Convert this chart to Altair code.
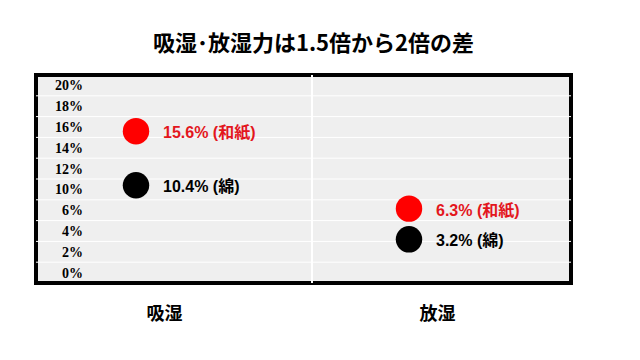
import altair as alt
import pandas as pd

# ---- data ----
categories = ["吸湿", "吸湿", "放湿", "放湿"]
materials = ["和紙", "綿", "和紙", "綿"]
values = [15.6, 10.4, 6.3, 3.2]

tick_values = [0, 2, 4, 6, 10, 12, 14, 16, 18, 20]
grid_values = [1, 3, 5, 8, 11, 13, 15, 17, 19]

W, H = 535, 208
S = H / 10.0

df = pd.DataFrame({
    "cat": categories,
    "mat": materials,
    "val": values,
})
df["label"] = [f"{v}% ({m})" for v, m in zip(values, materials)]

grid_df = pd.DataFrame({"g": grid_values})
tick_df = pd.DataFrame({"t": tick_values, "tl": [f"{t}%" for t in tick_values]})

yscale = alt.Scale(domain=[-1, 6, 10, 21], range=[H, H - 3.5 * S, H - 4.5 * S, 0],
                   nice=False, zero=False)
xscale = alt.Scale(type="point", domain=["吸湿", "放湿"], range=[100, 373], padding=0)
cscale = alt.Scale(domain=["和紙", "綿"], range=["#ff0000", "#000000"])
tscale = alt.Scale(domain=["和紙", "綿"], range=["#e3161d", "#000000"])

grid = alt.Chart(grid_df).mark_rule(color="white", strokeWidth=1).encode(
    y=alt.Y("g:Q", scale=yscale, axis=None)
)

divider = alt.Chart(grid_df).mark_rule(color="white", strokeWidth=1.5).encode(
    x=alt.value(276)
)

ylabels = alt.Chart(tick_df).mark_text(
    align="right", baseline="middle", font="Liberation Serif",
    fontWeight="bold", fontSize=14, color="black", dy=1
).encode(
    x=alt.value(47),
    y=alt.Y("t:Q", scale=yscale, axis=None),
    text="tl:N",
)

pts = alt.Chart(df).mark_circle(size=700, opacity=1).encode(
    x=alt.X("cat:N", scale=xscale,
            axis=alt.Axis(title=None, domain=False, ticks=False, labelAngle=0,
                          labelFontSize=18, labelFontWeight="bold",
                          labelFont="Noto Sans CJK JP", labelColor="black",
                          labelPadding=22, labelOffset=28)),
    y=alt.Y("val:Q", scale=yscale, axis=None),
    color=alt.Color("mat:N", scale=cscale, legend=None),
)

txt = alt.Chart(df).mark_text(align="left", baseline="middle", dx=27, dy=2,
                              fontSize=16, fontWeight="bold",
                              font="'Liberation Sans', 'Noto Sans CJK JP'").encode(
    x=alt.X("cat:N", scale=xscale),
    y=alt.Y("val:Q", scale=yscale),
    text="label:N",
    color=alt.Color("mat:N", scale=tscale, legend=None),
)

chart = alt.layer(grid, divider, ylabels, pts, txt).properties(
    width=W, height=H,
    title=alt.TitleParams("吸湿･放湿力は1.5倍から2倍の差", fontSize=22,
                          font="Noto Sans CJK JP", fontWeight="bold",
                          color="black", anchor="middle", dx=10, offset=18),
    autosize=alt.AutoSizeParams(type="none"),
    padding={"left": 28, "top": 67, "right": 61, "bottom": 69},
    background="white",
).resolve_scale(color="independent").configure_view(
    stroke="black", strokeWidth=4, fill="#efefef"
)

chart.save("out.html", embed_options={"renderer": "svg", "actions": False})
